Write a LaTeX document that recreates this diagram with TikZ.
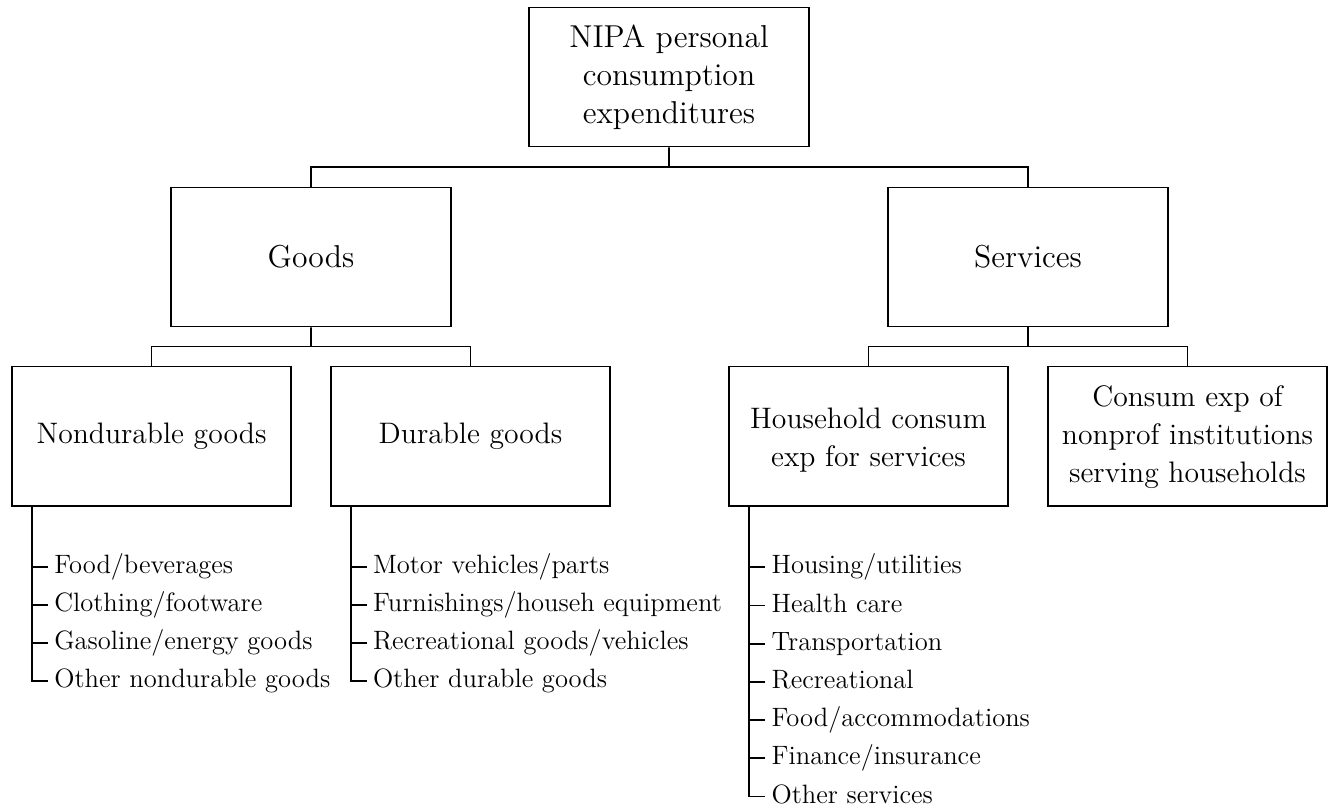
\documentclass[tikz,border=0pt]{standalone}
\usetikzlibrary{calc}
\begin{document}
\begin{tikzpicture}[x=0.42pt,y=-0.42pt,
  line width=0.7pt,
  box/.style={draw, line width=0.7pt, minimum width=117.4pt, minimum height=58.5pt,
    align=center, inner sep=2pt, font=\fontsize{12.45}{15.8}\selectfont},
  bigbox/.style={box, font=\fontsize{13.3}{16}\selectfont},
  item/.style={anchor=west, inner xsep=2.3pt, inner ysep=0pt, text height=8pt, text depth=2.4pt,
    font=\fontsize{11.15}{13.6}\selectfont},
  conn/.style={line width=0.7pt}]
\useasboundingbox (0,0) rectangle (1335,811);
% level 0
\node[bigbox] (root) at (669,77) {NIPA personal\\consumption\\expenditures};
% level 1
\node[bigbox] (goods) at (311,257) {Goods};
\node[bigbox] (serv) at (1028,257) {Services};
% level 2
\node[box] (nd) at (151.5,436.2) {Nondurable goods};
\node[box] (du) at (470.5,436.2) {Durable goods};
\node[box, text height=27.8pt] (hh) at (868.5,436.2) {Household consum\\exp for services};
\node[box, text height=41.2pt] (np) at (1187.5,436.2) {Consum exp of\\nonprof institutions\\serving households};
% tree connectors
\coordinate (b0) at ($(root.south)!.5!(root.south|-goods.north)$);
\draw[conn] (root.south) -- (b0);
\draw[conn] (goods.north) |- (b0) -| (serv.north);
\coordinate (b1) at ($(goods.south)!.5!(goods.south|-nd.north)$);
\draw[conn] (goods.south) -- (b1);
\draw[conn] (nd.north) |- (b1) -| (du.north);
\coordinate (b2) at ($(serv.south)!.5!(serv.south|-hh.north)$);
\draw[conn] (serv.south) -- (b2);
\draw[conn] (hh.north) |- (b2) -| (np.north);
% lists
\node[item] (nd1) at (48,567.3) {Food/beverages};
\node[item] (nd2) at (48,605.2) {Clothing/footware};
\node[item] (nd3) at (48,643.1) {Gasoline/energy goods};
\node[item] (nd4) at (48,681.0) {Other nondurable goods};
\coordinate (ndsp) at (nd.south -| 32,0);
\draw[conn] (ndsp) |- (nd4.west);
\foreach \i in {1,2,3} \draw[conn] (nd\i.west -| ndsp) -- (nd\i.west);

\node[item] (du1) at (366.7,567.3) {Motor vehicles/parts};
\node[item] (du2) at (366.7,605.2) {Furnishings/househ equipment};
\node[item] (du3) at (366.7,643.1) {Recreational goods/vehicles};
\node[item] (du4) at (366.7,681.0) {Other durable goods};
\coordinate (dusp) at (du.south -| 350.7,0);
\draw[conn] (dusp) |- (du4.west);
\foreach \i in {1,2,3} \draw[conn] (du\i.west -| dusp) -- (du\i.west);

\node[item] (hh1) at (765.3,567.3) {Housing/utilities};
\node[item] (hh2) at (765.3,605.5) {Health care};
\node[item] (hh3) at (765.3,643.7) {Transportation};
\node[item] (hh4) at (765.3,681.9) {Recreational};
\node[item] (hh5) at (765.3,720.1) {Food/accommodations};
\node[item] (hh6) at (765.3,758.3) {Finance/insurance};
\node[item] (hh7) at (765.3,796.5) {Other services};
\coordinate (hhsp) at (hh.south -| 749.3,0);
\draw[conn] (hhsp) |- (hh7.west);
\foreach \i in {1,...,6} \draw[conn] (hh\i.west -| hhsp) -- (hh\i.west);
\end{tikzpicture}
\end{document}
